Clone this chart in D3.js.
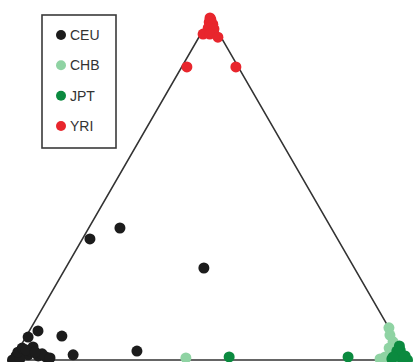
<!DOCTYPE html>
<html>
<head>
<meta charset="utf-8">
<script src="https://cdn.jsdelivr.net/npm/d3@7"></script>
<style>
  html, body { margin: 0; padding: 0; background: #fff; }
  svg { display: block; }
</style>
</head>
<body>
<svg id="chart" width="413" height="362"></svg>
<script>
// Ternary proportions: [top (YRI), left (CEU), right (CHB/JPT)]
const populations = ["CEU", "CHB", "JPT", "YRI"];
const colors = ["#1c1c1c", "#8fd3a3", "#0b8a3f", "#e8262d"];

const ceuPoints = [
  [0.386, 0.535, 0.079], [0.354, 0.627, 0.019], [0.269, 0.381, 0.350],
  [0.070, 0.840, 0.090], [0.085, 0.893, 0.022], [0.067, 0.927, 0.006],
  [0.038, 0.929, 0.033], [0.015, 0.839, 0.146], [0.026, 0.672, 0.302],
  [0.012, 0.985, 0.003], [0.023, 0.965, 0.012], [0.015, 0.953, 0.032],
  [0.012, 0.929, 0.059], [0.009, 0.911, 0.080], [0.000, 1.000, 0.000],
  [0.003, 0.980, 0.017], [0.026, 0.943, 0.031], [0.023, 0.975, 0.002],
  [0.035, 0.958, 0.007], [0.029, 0.951, 0.020], [0.018, 0.916, 0.066],
  [0.006, 0.902, 0.092], [0.023, 0.931, 0.046]
];
const chbPoints = [
  [0.006, 0.558, 0.436], [0.094, 0.000, 0.906], [0.053, 0.010, 0.937],
  [0.009, 0.052, 0.939], [0.035, 0.029, 0.936], [0.003, 0.068, 0.929],
  [0.073, 0.008, 0.919], [0.000, 0.057, 0.943]
];
const jptPoints = [
  [0.009, 0.447, 0.544], [0.009, 0.146, 0.845], [0.029, 0.004, 0.967],
  [0.012, 0.003, 0.985], [0.012, 0.023, 0.965], [0.000, 0.000, 1.000],
  [0.003, 0.038, 0.959], [0.006, 0.013, 0.981], [0.041, 0.000, 0.959],
  [0.026, 0.014, 0.960], [0.012, 0.000, 0.988], [0.009, 0.032, 0.959]
];
const yriPoints = [
  [1.000, 0.000, 0.000], [0.996, 0.000, 0.004], [0.988, 0.008, 0.004],
  [0.982, 0.002, 0.016], [0.971, 0.019, 0.010], [0.968, 0.006, 0.026],
  [0.953, 0.041, 0.006], [0.953, 0.024, 0.023], [0.944, 0.008, 0.048],
  [0.857, 0.130, 0.013], [0.857, 0.006, 0.137]
];
const seriesPoints = [ceuPoints, chbPoints, jptPoints, yriPoints];

const svg = d3.select("#chart");
const H = Math.sqrt(3) / 2;
const x = d3.scaleLinear().domain([0, 1]).range([12.5, 407.5]);
const y = d3.scaleLinear().domain([0, H]).range([360, 18]);

// ternary -> cartesian
const cx = d => x(d[2] + d[0] / 2);
const cy = d => y(d[0] * H);

// triangle
const verts = [[1, 0, 0], [0, 1, 0], [0, 0, 1]];
svg.append("path")
  .attr("d", d3.line().x(cx).y(cy)(verts) + "Z")
  .attr("fill", "none")
  .attr("stroke", "#333")
  .attr("stroke-width", 1.5);

// points
populations.forEach((p, i) => {
  svg.append("g").selectAll("circle")
    .data(seriesPoints[i])
    .join("circle")
    .attr("cx", cx)
    .attr("cy", cy)
    .attr("r", 5.5)
    .attr("fill", colors[i]);
});

// legend
const lg = svg.append("g");
lg.append("rect")
  .attr("x", 42).attr("y", 15).attr("width", 74).attr("height", 133)
  .attr("fill", "#fff").attr("stroke", "#3a3a3a").attr("stroke-width", 1.6);
const ly = d3.scalePoint().domain(populations).range([35, 126]);
populations.forEach((p, i) => {
  lg.append("circle").attr("cx", 61).attr("cy", ly(p)).attr("r", 5).attr("fill", colors[i]);
  lg.append("text").attr("x", 70).attr("y", ly(p) + 5)
    .attr("font-family", "Liberation Sans, Arial, sans-serif")
    .attr("font-size", 14).attr("fill", "#333").text(p);
});
</script>
</body>
</html>
